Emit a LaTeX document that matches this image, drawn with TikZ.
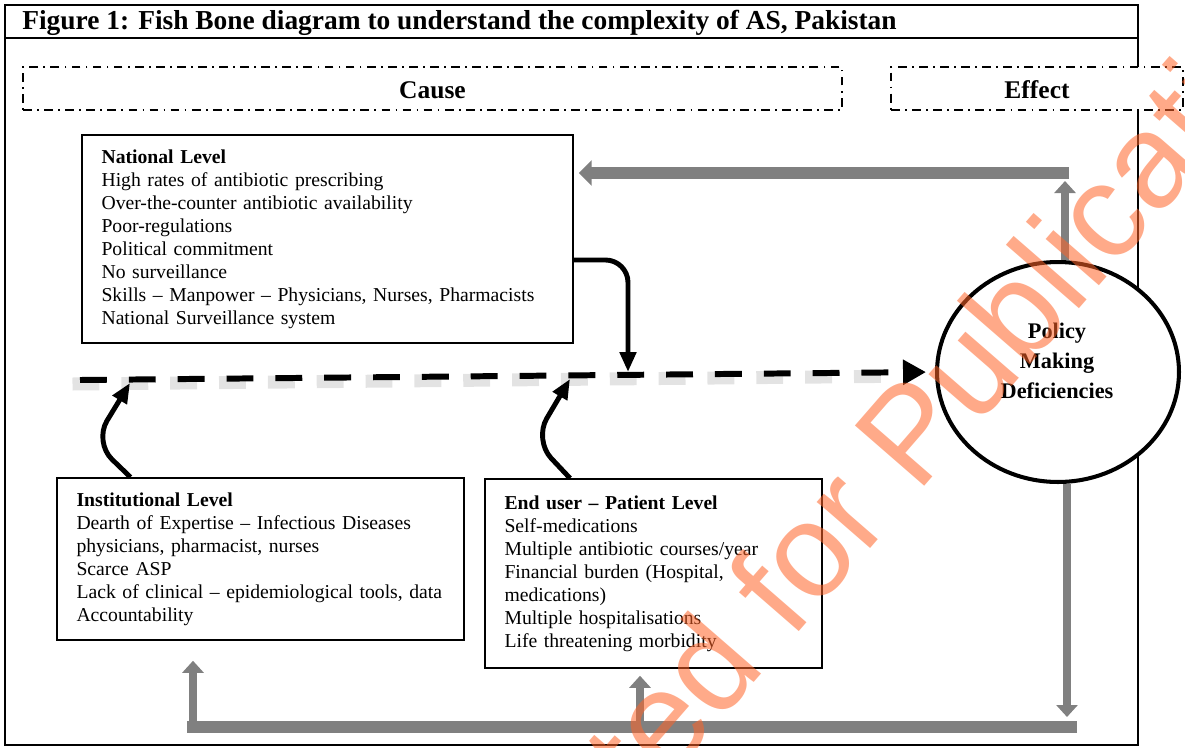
\documentclass[tikz,border=0pt]{standalone}
\usepackage{fontspec}
\setmainfont{Liberation Serif}
\newfontfamily\stampfont{Liberation Sans}
\usetikzlibrary{arrows.meta,shapes.geometric}

\definecolor{greyline}{RGB}{128,128,128}
\definecolor{stampcol}{RGB}{255,100,40}

\tikzset{
  levelbox/.style={draw, line width=0.9pt, fill=white, align=left, inner xsep=0.39cm,
    font=\fontsize{11.2}{13.1}\selectfont},
  headbox/.style={draw, line width=1.1pt, dash pattern=on 5pt off 3pt on 1pt off 3pt,
    fill=white, minimum height=0.86cm, text height=1.15em, text depth=0pt,
    font=\bfseries\fontsize{14.5}{17}\selectfont},
  bonearrow/.style={line width=2.8pt, -{Triangle[length=0.4cm,width=0.32cm]}},
  greyarrow/.style={draw=greyline, line width=0.16cm, -{Triangle[length=0.24cm,width=0.42cm]}},
  greybar/.style={draw=greyline, line width=0.24cm}
}

\begin{document}
\begin{tikzpicture}[x=0.02cm, y=-0.02cm]

    % Fix the page to the size of the figure
    \useasboundingbox (0,0) rectangle (1185,747);

    % Draw the outer frame and the title strip
    \draw[line width=0.9pt] (5,5) rectangle (1138,745);
    \draw[line width=0.9pt] (5,38) -- (1138,38);
    \node[anchor=west, inner sep=0pt, font=\bfseries\fontsize{15.6}{18}\selectfont] (title) at (22,23)
        {Figure 1: Fish Bone diagram to understand the complexity of AS, Pakistan};

    % Cause and effect headings
    \node[headbox, minimum width=16.38cm] (cause) at (432.5,88.5) {Cause};
    \node[headbox, minimum width=5.84cm] (effect) at (1037,88.5) {Effect};

    % The three levels of causes
    \node[levelbox, text width=9.04cm, minimum height=4.16cm] (nat) at (327.5,239)
        {\textbf{National Level}\\
         High rates of antibiotic prescribing\\
         Over-the-counter antibiotic availability\\
         Poor-regulations\\
         Political commitment\\
         No surveillance\\
         Skills -- Manpower -- Physicians, Nurses, Pharmacists\\
         National Surveillance system};
    \node[levelbox, text width=7.36cm, minimum height=3.24cm] (inst) at (260.5,559)
        {\textbf{Institutional Level}\\
         Dearth of Expertise -- Infectious Diseases\\
         physicians, pharmacist, nurses\\
         Scarce ASP\\
         Lack of clinical -- epidemiological tools, data\\
         Accountability};
    \node[levelbox, text width=5.96cm, minimum height=3.78cm] (user) at (653.5,573.5)
        {\textbf{End user -- Patient Level}\\
         Self-medications\\
         Multiple antibiotic courses/year\\
         Financial burden (Hospital,\\
         medications)\\
         Multiple hospitalisations\\
         Life threatening morbidity};

    % The effect (head of the fish)
    \node[ellipse, draw, fill=white, line width=2.3pt, minimum width=4.84cm, minimum height=4.4cm] (pmd) at (1058,372) {};
    \node[align=center, font=\bfseries\fontsize{12.7}{17}\selectfont] (pmdtext) at (1057,361)
        {Policy\\Making\\Deficiencies};

    % The spine with its soft shadow
    \coordinate (spine) at (80,380);
    \draw[gray, opacity=0.22, line width=0.26cm, dash pattern=on 15.3pt off 12.5pt, shorten >=0.7cm]
        ([xshift=-0.15cm,yshift=-0.08cm]spine) -- ([xshift=-0.15cm,yshift=-0.08cm]pmd.west);
    \draw[line width=3.4pt, dash pattern=on 15.3pt off 12.5pt,
        -{Triangle[length=0.46cm,width=0.48cm]}, shorten >=0.18cm] (spine) -- (pmd.west);

    % The bones joining each level to the spine
    \coordinate (nattip) at (628,372);
    \coordinate (insttip) at (130,383);
    \coordinate (usertip) at (570,379);
    \draw[bonearrow, rounded corners=0.45cm] ([yshift=-0.42cm]nat.east) -| (nattip);
    \draw[bonearrow, rounded corners=0.5cm] ([xshift=-2.6cm]inst.north) -- (94,442) -- (insttip);
    \draw[bonearrow, rounded corners=0.5cm] ([xshift=-1.67cm]user.north) -- (534,440) -- (usertip);

    % Feedback from the effect back to the national level
    \coordinate (topbar) at (1069,173);
    \coordinate (pmdtop) at ([xshift=0.14cm]pmd.north);
    \draw[greybar, -{Triangle[length=0.26cm,width=0.5cm]}, shorten >=0.1cm] (topbar) -- (topbar -| nat.east);
    \draw[greyarrow, shorten >=0.16cm] (pmdtop) -- (pmdtop |- topbar);

    % Feedback from the effect back to the lower levels
    \coordinate (botright) at (1077,727);
    \coordinate (botleft) at (187,727);
    \coordinate (pmdbot) at ([xshift=0.18cm]pmd.south);
    \coordinate (instup) at (193,733);
    \coordinate (userup) at (640,727);
    \draw[greybar] (botright) -- (botleft);
    \draw[greyarrow, shorten >=0.2cm] (pmdbot) -- (pmdbot |- botright);
    \draw[greyarrow, shorten >=0.4cm] (instup) -- (instup |- inst.south);
    \draw[greyarrow, shorten >=0.14cm] (userup) -- (userup |- user.south);

    % Watermark across the page
    \node[rotate=49, text=stampcol, text opacity=0.55, font=\stampfont\fontsize{76}{80}\selectfont] (stamp) at (848,522)
        {Accepted for Publication};

\end{tikzpicture}
\end{document}
